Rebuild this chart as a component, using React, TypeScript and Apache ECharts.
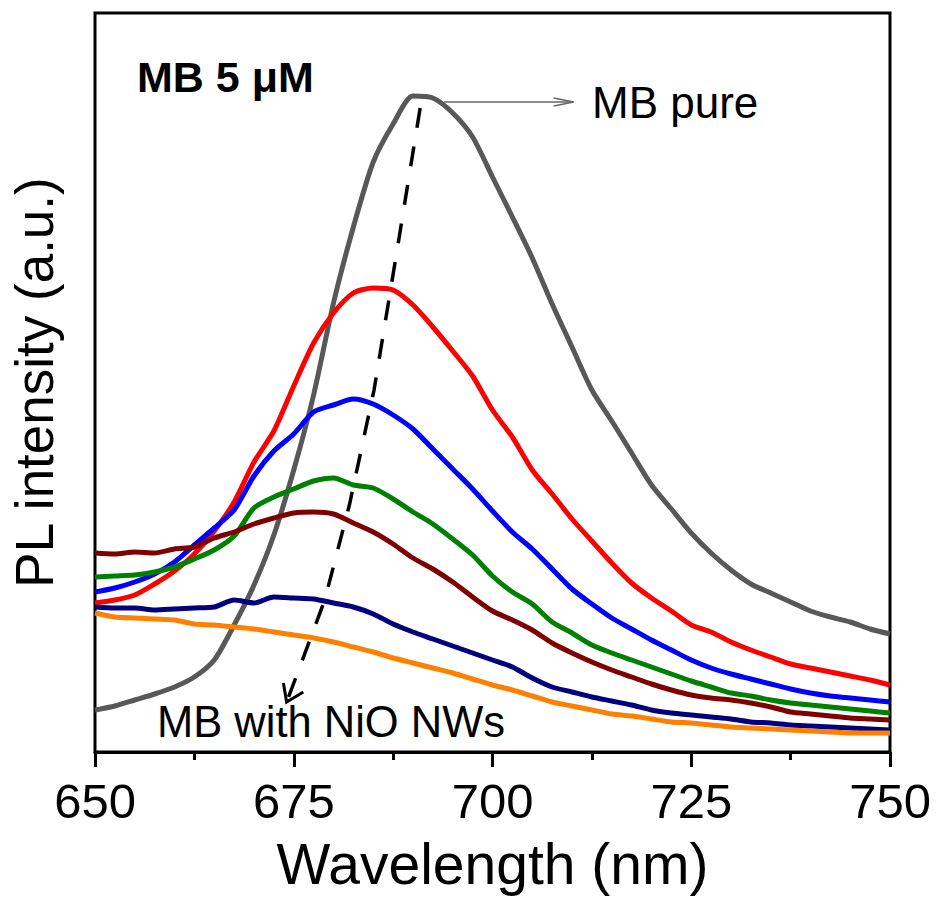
import React, { useEffect, useRef } from 'react';
import * as echarts from 'echarts';

const wavelength = [650, 652.5, 655, 657.5, 660, 662.5, 665, 667.5, 670, 672.5, 675, 677.5, 680, 682.5, 685, 687.5, 690, 692.5, 695, 697.5, 700, 702.5, 705, 707.5, 710, 712.5, 715, 717.5, 720, 722.5, 725, 727.5, 730, 732.5, 735, 737.5, 740, 742.5, 745, 747.5, 750];

const mbPure = [42, 46, 52, 58, 65, 75, 92, 127, 167, 217, 282, 357, 449, 525, 590, 628, 656, 654, 639, 615, 575, 535, 494, 448, 405, 362, 331, 299, 267, 243, 219, 199, 182, 168, 159, 150, 141, 135, 130, 123, 118];
const redSeries = [149, 152, 157, 168, 181, 198, 221, 250, 290, 321, 366, 409, 439, 459, 464, 462, 447, 425, 401, 376, 342, 315, 282, 258, 233, 211, 189, 169, 154, 141, 127, 120, 110, 102, 95, 88, 84, 80, 76, 72, 67];
const blueSeries = [160, 164, 170, 178, 190, 207, 224, 242, 276, 301, 318, 340, 347, 353, 348, 337, 323, 303, 283, 263, 241, 220, 203, 183, 163, 148, 134, 123, 112, 102, 92, 84, 78, 73, 68, 63, 59, 56, 54, 52, 50];
const greenSeries = [175, 176, 177, 180, 185, 193, 202, 216, 244, 255, 263, 271, 274, 267, 264, 253, 240, 228, 213, 197, 176, 160, 148, 130, 119, 107, 99, 92, 85, 78, 71, 65, 59, 56, 52, 49, 47, 45, 43, 41, 39];
const maroonSeries = [199, 198, 200, 199, 203, 205, 214, 220, 228, 234, 239, 240, 238, 229, 220, 208, 194, 183, 170, 155, 141, 132, 122, 109, 99, 90, 82, 75, 68, 62, 57, 54, 52, 49, 45, 40, 38, 36, 34, 33, 32];
const navySeries = [145, 144, 144, 142, 143, 144, 145, 152, 149, 155, 154, 153, 149, 145, 138, 128, 120, 113, 106, 99, 92, 85, 74, 65, 60, 55, 51, 47, 42, 39, 37, 35, 33, 30, 29, 27, 26, 25, 24, 23, 22];
const orangeSeries = [139, 135, 134, 133, 132, 128, 127, 125, 123, 120, 117, 114, 110, 105, 100, 94, 89, 84, 79, 73, 67, 62, 56, 50, 46, 42, 38, 36, 33, 30, 29, 27, 25, 24, 23, 22, 21, 20, 19, 19, 19];

const xTicks = { min: 650, max: 750, interval: 25 };

// annotation anchor points in data coordinates [nm, intensity]
const dashedTrend = [[690.9, 644], [688.0, 502], [685.1, 362], [682.0, 247], [678.9, 152], [676.0, 90], [674.3, 54]];
const dashedHead = [[673.7, 69], [674.1, 50], [676.2, 60]];
const pureArrowLine = [[693.9, 650], [710.2, 650]];
const pureArrowHead = [[707.7, 654], [710.2, 650], [707.7, 646]];

const FONT = '"Liberation Sans", Arial, Helvetica, sans-serif';

export default function App() {
  const ref = useRef<HTMLDivElement>(null);
  useEffect(() => {
    document.body.style.margin = '0';
    const chart = echarts.init(ref.current!, null, { renderer: 'svg' });
    const mk = (name: string, color: string, vals: number[]) => ({
      type: 'line',
      name,
      data: wavelength.map((w, i) => [w, vals[i]]),
      symbol: 'none',
      showSymbol: false,
      smooth: 0.25,
      lineStyle: { color, width: 5 },
      itemStyle: { color },
    });
    chart.setOption({
      animation: false,
      grid: { left: 93, right: 49, top: 13, bottom: 145, show: true, borderColor: '#000', borderWidth: 3 },
      xAxis: {
        type: 'value',
        min: xTicks.min,
        max: xTicks.max,
        interval: xTicks.interval,
        name: 'Wavelength (nm)',
        nameLocation: 'middle',
        nameGap: 83,
        nameTextStyle: { fontSize: 57, color: '#000', fontFamily: FONT },
        axisLine: { show: true, lineStyle: { color: '#000', width: 3 } },
        axisTick: { show: true, length: 15, lineStyle: { color: '#000', width: 3 } },
        minorTick: { show: true, splitNumber: 2, length: 8, lineStyle: { color: '#000', width: 3 } },
        axisLabel: { fontSize: 49, color: '#000', fontFamily: FONT, margin: 24 },
        splitLine: { show: false },
        minorSplitLine: { show: false },
      },
      yAxis: {
        type: 'value',
        min: 0,
        max: 739,
        name: 'PL intensity (a.u.)',
        nameLocation: 'middle',
        nameGap: 34,
        nameTextStyle: { fontSize: 53, color: '#000', fontFamily: FONT },
        axisLine: { show: false },
        axisTick: { show: false },
        axisLabel: { show: false },
        splitLine: { show: false },
      },
      series: [
        mk('MB pure', '#585858', mbPure),
        mk('S1', '#ff0000', redSeries),
        mk('S2', '#0000ff', blueSeries),
        mk('S3', '#008000', greenSeries),
        mk('S4', '#7f0000', maroonSeries),
        mk('S5', '#00007f', navySeries),
        mk('S6', '#ff8000', orangeSeries),
      ],
    });
    const px = (pts: number[][]) => pts.map((p) => chart.convertToPixel({ gridIndex: 0 }, p) as number[]);
    chart.setOption({
      graphic: [
        { type: 'polyline', shape: { points: px(dashedTrend) }, style: { stroke: '#000', lineWidth: 3.5, lineDash: [20, 19], fill: null }, z: 100 },
        { type: 'polyline', shape: { points: px(dashedHead) }, style: { stroke: '#000', lineWidth: 3, fill: null }, z: 100 },
        { type: 'polyline', shape: { points: px(pureArrowLine) }, style: { stroke: '#666', lineWidth: 1.5, fill: null }, z: 100 },
        { type: 'polyline', shape: { points: px(pureArrowHead) }, style: { stroke: '#666', lineWidth: 1.5, fill: null }, z: 100 },
        { type: 'text', x: 137, y: 77, style: { text: 'MB 5 μM', fontSize: 43, fontWeight: 'bold', fontFamily: FONT, fill: '#000', align: 'left', verticalAlign: 'middle' }, z: 100 },
        { type: 'text', x: 592, y: 102, style: { text: 'MB pure', fontSize: 44, fontFamily: FONT, fill: '#000', align: 'left', verticalAlign: 'middle' }, z: 100 },
        { type: 'text', x: 157, y: 722, style: { text: 'MB with NiO NWs', fontSize: 43.5, fontFamily: FONT, fill: '#000', align: 'left', verticalAlign: 'middle' }, z: 100 },
      ],
    });
    return () => chart.dispose();
  }, []);
  return <div ref={ref} style={{ width: 939, height: 897 }} />;
}
